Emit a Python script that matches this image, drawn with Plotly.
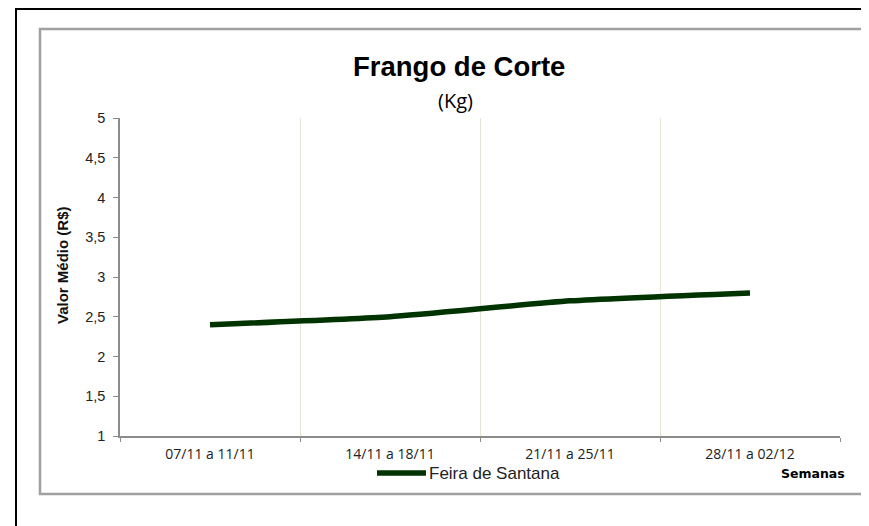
import plotly.graph_objects as go

semanas = ["07/11 a 11/11", "14/11 a 18/11", "21/11 a 25/11", "28/11 a 02/12"]
feira_de_santana = [2.4, 2.5, 2.7, 2.8]
serie_nome = "Feira de Santana"
titulo = "Frango de Corte"
subtitulo = "(Kg)"
y_titulo = "Valor Médio (R$)"
x_titulo = "Semanas"

# page offset of 8px (body margin) -> figure drawn from (8, 8)
OFF = 8
W, H = 869 - OFF, 526 - OFF
PX0, PX1, PY0, PY1 = 120, 840, 118, 436  # plot area in screen coords
L, T = PX0 - OFF, PY0 - OFF
R = 869 - PX1
B = 526 - PY1

def px(x):
    return (x - PX0) / (PX1 - PX0)

def py(y):
    return (PY1 - y) / (PY1 - PY0)

fig = go.Figure()
fig.add_trace(go.Scatter(
    x=semanas, y=feira_de_santana, mode="lines", name=serie_nome,
    line=dict(color="#003300", width=5.5, shape="spline", smoothing=0.5),
    showlegend=False,
))

fig.update_layout(
    width=W, height=H,
    margin=dict(l=L, r=R, t=T, b=B, autoexpand=False),
    paper_bgcolor="white", plot_bgcolor="white",
    separators=", ",
    font=dict(family="Liberation Sans, Arial", color="#222222"),
    xaxis=dict(
        type="category", range=[-0.5, 3.5], tickson="boundaries",
        showgrid=True, gridcolor="#e9e5d6", gridwidth=1.2,
        showline=True, linecolor="#8c8c8c", linewidth=1.5,
        ticks="outside", ticklen=4, tickcolor="#8c8c8c",
        ticklabelstandoff=4,
        tickfont=dict(family="Open Sans", size=14, color="#222222"),
        zeroline=False,
    ),
    yaxis=dict(
        range=[1, 5], dtick=0.5, tick0=1,
        showgrid=False, zeroline=False,
        showline=True, linecolor="#8c8c8c", linewidth=1.5,
        ticks="outside", ticklen=5, tickcolor="#8c8c8c",
        ticklabelstandoff=5,
        tickfont=dict(family="Liberation Sans, Arial", size=14.5, color="#222222"),
    ),
    shapes=[
        dict(type="rect", xref="paper", yref="paper",
             x0=px(16), x1=px(875), y0=py(9), y1=py(535),
             line=dict(color="black", width=2), fillcolor="rgba(0,0,0,0)", layer="below"),
        dict(type="rect", xref="paper", yref="paper",
             x0=px(40), x1=px(867), y0=py(29), y1=py(494),
             line=dict(color="#a0a0a0", width=2.5), fillcolor="rgba(0,0,0,0)", layer="below"),
        dict(type="line", xref="paper", yref="paper",
             x0=px(377), x1=px(426), y0=py(473), y1=py(473),
             line=dict(color="#003300", width=5.5)),
    ],
    annotations=[
        dict(text="<b>" + titulo + "</b>", xref="paper", yref="paper",
             x=px(459), y=py(66), showarrow=False, xanchor="center", yanchor="middle",
             font=dict(family="Liberation Sans, Arial", size=27.5, color="#000000")),
        dict(text=subtitulo, xref="paper", yref="paper",
             x=px(455), y=py(100), showarrow=False, xanchor="center", yanchor="middle",
             font=dict(family="Open Sans", size=20, color="#000000")),
        dict(text="<b>" + y_titulo + "</b>", xref="paper", yref="paper",
             x=px(62), y=py(265), showarrow=False, xanchor="center", yanchor="middle",
             textangle=-90,
             font=dict(family="Liberation Sans, Arial", size=15, color="#111111")),
        dict(text=serie_nome, xref="paper", yref="paper",
             x=px(427), y=py(473), showarrow=False, xanchor="left", yanchor="middle",
             font=dict(family="Liberation Sans, Arial", size=17, color="#222222")),
        dict(text="<b>" + x_titulo + "</b>", xref="paper", yref="paper",
             x=px(847), y=py(473), showarrow=False, xanchor="right", yanchor="middle",
             font=dict(family="DejaVu Sans", size=12.5, color="#000000")),
    ],
)

fig.write_html("out.html")
